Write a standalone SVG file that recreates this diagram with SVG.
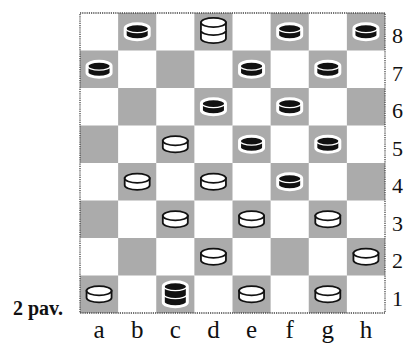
<svg xmlns="http://www.w3.org/2000/svg" xmlns:xlink="http://www.w3.org/1999/xlink" width="406" height="346" viewBox="0 0 406 346">
<style>
.dk{fill:#ababab}
.lbl{font-family:"Liberation Serif","Times New Roman",serif;fill:#111}
.file{font-size:25px;text-anchor:middle}
.rank{font-size:22px}
.cap{font-family:"Liberation Serif","Times New Roman",serif;font-weight:bold;font-size:20px;fill:#111}
.wb{fill:#fff;stroke:#111;stroke-width:1.8}
.bo{fill:#111;stroke:#fff;stroke-width:3}
.bl{fill:none;stroke:#fff;stroke-width:1.4}
</style>
<defs>
<g id="wp">
<path class="wb" d="M-12.5,-3.5 V3.5 A12.5,4.6 0 0 0 12.5,3.5 V-3.5 Z"/>
<ellipse class="wb" cx="0" cy="-3.5" rx="12.5" ry="4.6"/>
</g>
<g id="bp">
<path class="bo" d="M-12,-3.5 V3.5 A12,4.5 0 0 0 12,3.5 V-3.5 A12,4.5 0 0 0 -12,-3.5 Z"/>
<path class="bl" d="M-11.5,-3.3 A11.5,4.2 0 0 0 11.5,-3.3"/>
</g>
<g id="wk">
<path class="wb" d="M-12.5,-8 V8 A12.5,4.6 0 0 0 12.5,8 V-8 Z"/>
<path class="wb" d="M-12.5,0 A12.5,4.6 0 0 0 12.5,0" fill="none"/>
<ellipse class="wb" cx="0" cy="-8" rx="12.5" ry="4.6"/>
</g>
<g id="bk">
<path class="bo" d="M-12,-8 V8 A12,4.5 0 0 0 12,8 V-8 A12,4.5 0 0 0 -12,-8 Z"/>
<path class="bl" d="M-11.5,-7.8 A11.5,4.2 0 0 0 11.5,-7.8"/>
<path class="bl" d="M-11.5,0.2 A11.5,4.2 0 0 0 11.5,0.2"/>
</g>
</defs>
<rect width="406" height="346" fill="#fff"/>
<g id="board">
<rect x="80" y="13" width="305" height="300" fill="#fff"/>
<rect class="dk" x="118.125" y="13" width="38.125" height="37.5"/>
<rect class="dk" x="194.375" y="13" width="38.125" height="37.5"/>
<rect class="dk" x="270.625" y="13" width="38.125" height="37.5"/>
<rect class="dk" x="346.875" y="13" width="38.125" height="37.5"/>
<rect class="dk" x="80" y="50.5" width="38.125" height="37.5"/>
<rect class="dk" x="156.25" y="50.5" width="38.125" height="37.5"/>
<rect class="dk" x="232.5" y="50.5" width="38.125" height="37.5"/>
<rect class="dk" x="308.75" y="50.5" width="38.125" height="37.5"/>
<rect class="dk" x="118.125" y="88" width="38.125" height="37.5"/>
<rect class="dk" x="194.375" y="88" width="38.125" height="37.5"/>
<rect class="dk" x="270.625" y="88" width="38.125" height="37.5"/>
<rect class="dk" x="346.875" y="88" width="38.125" height="37.5"/>
<rect class="dk" x="80" y="125.5" width="38.125" height="37.5"/>
<rect class="dk" x="156.25" y="125.5" width="38.125" height="37.5"/>
<rect class="dk" x="232.5" y="125.5" width="38.125" height="37.5"/>
<rect class="dk" x="308.75" y="125.5" width="38.125" height="37.5"/>
<rect class="dk" x="118.125" y="163" width="38.125" height="37.5"/>
<rect class="dk" x="194.375" y="163" width="38.125" height="37.5"/>
<rect class="dk" x="270.625" y="163" width="38.125" height="37.5"/>
<rect class="dk" x="346.875" y="163" width="38.125" height="37.5"/>
<rect class="dk" x="80" y="200.5" width="38.125" height="37.5"/>
<rect class="dk" x="156.25" y="200.5" width="38.125" height="37.5"/>
<rect class="dk" x="232.5" y="200.5" width="38.125" height="37.5"/>
<rect class="dk" x="308.75" y="200.5" width="38.125" height="37.5"/>
<rect class="dk" x="118.125" y="238" width="38.125" height="37.5"/>
<rect class="dk" x="194.375" y="238" width="38.125" height="37.5"/>
<rect class="dk" x="270.625" y="238" width="38.125" height="37.5"/>
<rect class="dk" x="346.875" y="238" width="38.125" height="37.5"/>
<rect class="dk" x="80" y="275.5" width="38.125" height="37.5"/>
<rect class="dk" x="156.25" y="275.5" width="38.125" height="37.5"/>
<rect class="dk" x="232.5" y="275.5" width="38.125" height="37.5"/>
<rect class="dk" x="308.75" y="275.5" width="38.125" height="37.5"/>
<rect x="80" y="13" width="305" height="300" fill="none" stroke="#444" stroke-width="1.3" stroke-dasharray="1.2 1"/>
</g>
<g id="pieces">
<use id="b8" xlink:href="#bp" href="#bp" x="137.19" y="31.75"/>
<use id="d8" xlink:href="#wk" href="#wk" x="213.44" y="30.5"/>
<use id="f8" xlink:href="#bp" href="#bp" x="289.69" y="31.75"/>
<use id="h8" xlink:href="#bp" href="#bp" x="365.94" y="31.75"/>
<use id="a7" xlink:href="#bp" href="#bp" x="99.06" y="69.25"/>
<use id="e7" xlink:href="#bp" href="#bp" x="251.56" y="69.25"/>
<use id="g7" xlink:href="#bp" href="#bp" x="327.81" y="69.25"/>
<use id="d6" xlink:href="#bp" href="#bp" x="213.44" y="106.75"/>
<use id="f6" xlink:href="#bp" href="#bp" x="289.69" y="106.75"/>
<use id="c5" xlink:href="#wp" href="#wp" x="175.31" y="144.25"/>
<use id="e5" xlink:href="#bp" href="#bp" x="251.56" y="144.25"/>
<use id="g5" xlink:href="#bp" href="#bp" x="327.81" y="144.25"/>
<use id="b4" xlink:href="#wp" href="#wp" x="137.19" y="181.75"/>
<use id="d4" xlink:href="#wp" href="#wp" x="213.44" y="181.75"/>
<use id="f4" xlink:href="#bp" href="#bp" x="289.69" y="181.75"/>
<use id="c3" xlink:href="#wp" href="#wp" x="175.31" y="219.25"/>
<use id="e3" xlink:href="#wp" href="#wp" x="251.56" y="219.25"/>
<use id="g3" xlink:href="#wp" href="#wp" x="327.81" y="219.25"/>
<use id="d2" xlink:href="#wp" href="#wp" x="213.44" y="256.75"/>
<use id="h2" xlink:href="#wp" href="#wp" x="365.94" y="256.75"/>
<use id="a1" xlink:href="#wp" href="#wp" x="99.06" y="294.25"/>
<use id="c1" xlink:href="#bk" href="#bk" x="175.31" y="294.25"/>
<use id="e1" xlink:href="#wp" href="#wp" x="251.56" y="294.25"/>
<use id="g1" xlink:href="#wp" href="#wp" x="327.81" y="294.25"/>
</g>
<g id="ranks" class="lbl rank">
<text x="392" y="43">8</text>
<text x="392" y="80.5">7</text>
<text x="392" y="118">6</text>
<text x="392" y="155.5">5</text>
<text x="392" y="193">4</text>
<text x="392" y="230.5">3</text>
<text x="392" y="268">2</text>
<text x="392" y="305.5">1</text>
</g>
<g id="files" class="lbl file">
<text x="99.06" y="338">a</text>
<text x="137.19" y="338">b</text>
<text x="175.31" y="338">c</text>
<text x="213.44" y="338">d</text>
<text x="251.56" y="338">e</text>
<text x="289.69" y="338">f</text>
<text x="327.81" y="338">g</text>
<text x="365.94" y="338">h</text>
</g>
<text id="caption" class="cap" x="13" y="315">2 pav.</text>
</svg>
